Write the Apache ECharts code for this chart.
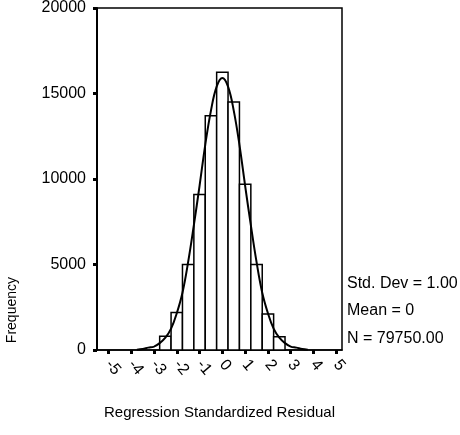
<!DOCTYPE html>
<html>
<head>
<meta charset="utf-8">
<script src="https://cdn.jsdelivr.net/npm/echarts@6/dist/echarts.min.js"></script>
<style>
html,body{margin:0;padding:0;background:#fff;}
#c{width:460px;height:435px;}
</style>
</head>
<body>
<div id="c"></div>
<script>
// Histogram bins (centers, width 0.5) and frequencies
var binCenters = [-2.5, -2, -1.5, -1, -0.5, 0, 0.5, 1, 1.5, 2, 2.5];
var binCounts  = [800, 2200, 5000, 9100, 13700, 16250, 14500, 9700, 5000, 2100, 780];
var binWidth = 0.5;

// Normal curve points
var curveX = [-3.75,-3.5,-3.25,-3,-2.75,-2.5,-2.25,-2,-1.75,-1.5,-1.25,-1,-0.75,-0.5,-0.25,0,0.25,0.5,0.75,1,1.25,1.5,1.75,2,2.25,2.5,2.75,3,3.25,3.5,3.75];
var curveY = [20,60,140,200,400,720,1250,2150,3350,5150,7300,9600,12000,14000,15400,15900,15400,14000,12000,9600,7300,5150,3350,2150,1250,720,400,200,140,60,20];

// Axis ticks / labels
var xTicks = [-5,-4,-3,-2,-1,0,1,2,3,4,5];
var xTickLabels = ['-5','-4','-3','-2','-1','0','1','2','3','4','5'];
var yTicks = [0, 5000, 10000, 15000, 20000];
var yTickLabels = ['0', '5000', '10000', '15000', '20000'];

var statLines = ['Std. Dev = 1.00', 'Mean = 0', 'N = 79750.00'];

var FONT = 'Liberation Sans, Arial, sans-serif';

var chart = echarts.init(document.getElementById('c'), null, {renderer:'canvas'});

var barData = binCenters.map(function(c,i){ return [c, binCounts[i]]; });
var curveData = curveX.map(function(x,i){ return [x, curveY[i]]; });

var option = {
  animation: false,
  backgroundColor: '#fff',
  grid: {
    left: 97, right: 118, top: 8, bottom: 85,
    show: true, borderColor: '#000', borderWidth: 1.5,
    containLabel: false, outerBoundsMode: 'none'
  },
  xAxis: {
    type: 'value',
    min: -5.5, max: 5.25,
    splitLine: {show:false},
    axisLine: {show:true, onZero:false, lineStyle:{color:'#000', width:1.5}},
    axisTick: {show:true, customValues: xTicks, length:4, lineStyle:{color:'#000', width:3}},
    axisLabel: {
      show:true, customValues: xTicks, rotate: -50, margin: 12,
      color:'#000', fontSize:16, fontFamily: FONT,
      formatter: function(v){ var i = xTicks.indexOf(v); return i>=0 ? xTickLabels[i] : ''; }
    },
    name: 'Regression Standardized Residual',
    nameLocation: 'middle', nameGap: 55,
    nameTextStyle: {color:'#000', fontSize:15, fontFamily: FONT}
  },
  yAxis: {
    type: 'value',
    min: 0, max: 20000, interval: 5000,
    splitLine: {show:false},
    axisLine: {show:true, onZero:false, lineStyle:{color:'#000', width:2}},
    axisTick: {show:true, length:4, lineStyle:{color:'#000', width:3}},
    axisLabel: {
      color:'#000', fontSize:16, fontFamily: FONT, margin: 11,
      formatter: function(v){ var i = yTicks.indexOf(v); return i>=0 ? yTickLabels[i] : ''; }
    }
  },
  series: [
    {
      type: 'custom',
      data: barData,
      renderItem: function(params, api){
        var c = api.value(0), v = api.value(1);
        var p0 = api.coord([c - binWidth/2, v]);
        var p1 = api.coord([c + binWidth/2, 0]);
        return {
          type: 'rect',
          shape: {x: p0[0], y: p0[1], width: p1[0]-p0[0], height: p1[1]-p0[1]},
          style: {fill:'#fff', stroke:'#000', lineWidth:1.5}
        };
      },
      z: 2
    },
    {
      type: 'line',
      data: curveData,
      smooth: 0.4,
      symbol: 'none',
      lineStyle: {color:'#000', width:2},
      z: 3
    }
  ],
  graphic: [
    {type:'text', left: 5, top: 277, rotation: Math.PI/2, style:{text:'Frequency', fill:'#000', font:'14px ' + FONT}},
    {type:'text', left: 347, top: 276, style:{text: statLines[0], fill:'#000', font:'16px ' + FONT}},
    {type:'text', left: 347, top: 303, style:{text: statLines[1], fill:'#000', font:'16px ' + FONT}},
    {type:'text', left: 347, top: 331, style:{text: statLines[2], fill:'#000', font:'16px ' + FONT}}
  ]
};
chart.setOption(option);
</script>
</body>
</html>
